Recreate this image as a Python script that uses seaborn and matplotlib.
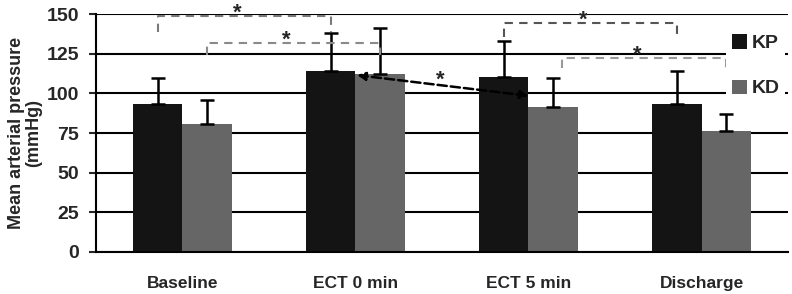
import numpy as np
import pandas as pd
import seaborn as sns
import matplotlib
matplotlib.use('Agg')
import matplotlib.pyplot as plt

# values
phases = ['Baseline', 'ECT 0 min', 'ECT 5 min', 'Discharge']
groups = ['KP', 'KD']
kp_mean = [93, 114, 110.5, 93]
kd_mean = [81, 112.5, 91.5, 76.5]
kp_err = [17, 24, 22.5, 21]
kd_err = [15, 28.5, 18, 10.5]

df = pd.DataFrame({
    'phase': phases * 2,
    'group': ['KP'] * 4 + ['KD'] * 4,
    'map': kp_mean + kd_mean,
})

sns.set_style('white')
plt.rcParams['font.family'] = ['Liberation Sans', 'DejaVu Sans']
plt.rcParams['font.weight'] = 'bold'

fig = plt.figure(figsize=(7.92, 2.94), dpi=100)
ax = fig.add_axes([0.121, 0.143, 0.874, 0.809])

sns.barplot(data=df, x='phase', y='map', hue='group', order=phases, hue_order=groups,
            palette=['#141414', '#666666'], errorbar=None, width=0.57, gap=0,
            saturation=1, edgecolor='none', ax=ax, zorder=2)

# upward-only error bars, Excel style
centers = {}
for cont, g, means, errs in zip(ax.containers, groups, [kp_mean, kd_mean], [kp_err, kd_err]):
    xs = [b.get_x() + b.get_width() / 2 for b in cont]
    centers[g] = xs
    ax.errorbar(xs, means, yerr=[np.zeros(4), errs], fmt='none', ecolor='black',
                elinewidth=1.8, capsize=5, capthick=1.8, zorder=3)

ax.set_ylim(0, 150)
ax.set_xlim(-0.5, 3.5)
ax.set_yticks(range(0, 151, 25))
ax.yaxis.grid(True, color='black', linewidth=1.5)
ax.set_axisbelow(True)
for s in ['top', 'right']:
    ax.spines[s].set_visible(False)
for s in ['left', 'bottom']:
    ax.spines[s].set_linewidth(1.5)
    ax.spines[s].set_color('black')

ax.set_xticks(np.arange(-0.5, 4, 1), minor=True)
ax.tick_params(axis='x', which='major', length=0, pad=17, labelsize=12.5)
ax.tick_params(axis='x', which='minor', length=5, width=1.5, direction='out')
ax.tick_params(axis='y', length=5, width=1.5, direction='out', labelsize=14, left=True, pad=7)
for lab in ax.get_xticklabels() + ax.get_yticklabels():
    lab.set_fontweight('bold')
ax.set_xlabel('')
ax.set_ylabel('Mean arterial pressure\n(mmHg)', fontsize=13, fontweight='bold',
              labelpad=3, linespacing=1.0)


def bracket(x1, x2, ytop, ylow, color):
    ax.plot([x1, x1, x2, x2], [ylow, ytop, ytop, ylow], ls=(0, (4, 3)), color=color,
            lw=1.5, clip_on=False, zorder=4)
    ax.text((x1 + x2) / 2 - 0.04, ytop + 2, '*', ha='center', va='center', fontsize=16,
            fontweight='bold', clip_on=False)


kp, kd = centers['KP'], centers['KD']
bracket(kp[0], kp[1], 148.7, 139, '#7a7a7a')
bracket(kd[0], kd[1], 131.7, 124, '#8a8a8a')
bracket(kp[2], kp[3], 144.3, 135.5, '#555555')
bracket(kd[2] + 0.05, kd[3], 122.3, 116, '#999999')

# dashed double arrow between ECT 0 KD and ECT 5 KP
bw = ax.containers[0][0].get_width()
ax.annotate('', xy=(kd[1] - bw / 2 + 0.01, kd_mean[1] - 1), xytext=(kp[2] + bw / 2, kp_mean[2] - 12),
            arrowprops=dict(arrowstyle='<|-|>', ls='--', lw=1.8, color='black',
                            mutation_scale=12, shrinkA=0, shrinkB=0), zorder=5)
ax.text(1.49, 108, '*', ha='center', va='center', fontsize=16, fontweight='bold')

leg = ax.legend(loc='upper right', bbox_to_anchor=(1.01, 0.98), frameon=True,
                labelspacing=1.4, handlelength=0.75, handleheight=0.75, handletextpad=0.25,
                borderpad=0.3, prop={'size': 14, 'weight': 'bold'})
leg.get_frame().set_edgecolor('none')
leg.get_frame().set_facecolor('white')
leg.get_frame().set_alpha(1)
leg.set_zorder(6)

fig.savefig('out.png', dpi=100)
